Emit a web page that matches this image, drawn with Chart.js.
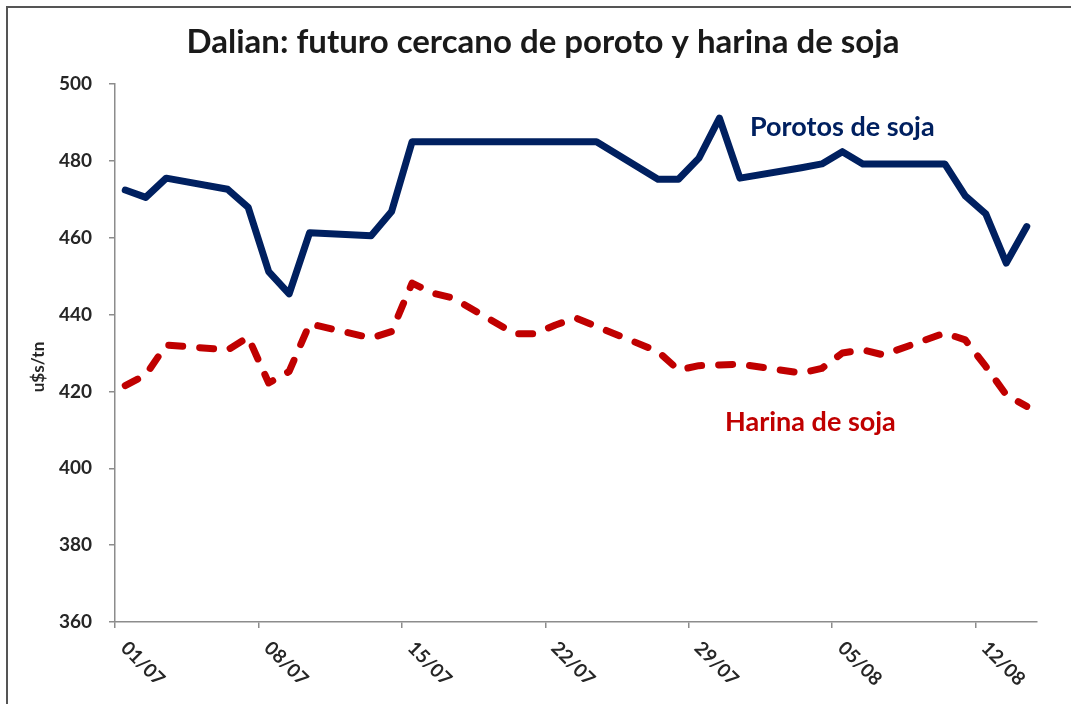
<!DOCTYPE html>
<html>
<head>
<meta charset="utf-8">
<title>Dalian: futuro cercano de poroto y harina de soja</title>
<script src="https://cdn.jsdelivr.net/npm/chart.js@4.4.1/dist/chart.umd.min.js"></script>
<style>
    html, body { margin: 0; padding: 0; background: #ffffff; overflow: hidden; }
    #wrap { position: relative; width: 1071px; height: 704px; }
</style>
</head>
<body>
<div id="wrap">
    <canvas id="dalian-chart" width="1071" height="704"></canvas>
</div>
<script>
// Trading days (dd/mm, 2020) and near-futures prices in u$s/tn
const dates = [
    '01/07', '02/07', '03/07', '06/07', '07/07', '08/07', '09/07', '10/07',
    '13/07', '14/07', '15/07', '16/07', '17/07', '20/07', '21/07', '22/07',
    '23/07', '24/07', '27/07', '28/07', '29/07', '30/07', '31/07', '03/08',
    '04/08', '05/08', '06/08', '07/08', '10/08', '11/08', '12/08', '13/08', '14/08'
];
const porotos = [
    472.4, 470.5, 475.5, 472.6, 467.9, 451.2, 445.4, 461.3,
    460.5, 466.8, 485.0, 485.0, 485.0, 485.0, 485.0, 485.0,
    485.0, 485.0, 475.2, 475.2, 480.7, 491.1, 475.5, 478.2,
    479.2, 482.4, 479.2, 479.2, 479.2, 470.9, 466.2, 453.4, 462.9
];
const harina = [
    421.5, 424.3, 432.1, 430.8, 434.1, 422.2, 425.2, 437.6,
    433.9, 435.6, 448.2, 445.6, 444.3, 435.0, 435.0, 437.3,
    439.1, 436.9, 430.4, 425.6, 426.7, 426.9, 427.1, 424.8,
    426.0, 430.0, 430.8, 429.5, 435.2, 433.4, 426.5, 419.1, 416.1
];
const tickLabels = ['01/07', '08/07', '15/07', '22/07', '29/07', '05/08', '12/08'];
const yTicks = [360, 380, 400, 420, 440, 460, 480, 500];

const TITLE = 'Dalian: futuro cercano de poroto y harina de soja';
const FONT = 'Lato, "Open Sans", sans-serif';

// day number counted from 01/07 (July has 31 days)
function dayIndex(label) {
    const parts = label.split('/');
    const d = parseInt(parts[0], 10);
    const m = parseInt(parts[1], 10);
    return (m === 7 ? d - 1 : 31 + d - 1);
}

// Excel date axis puts each day in the middle of its slot
const toPoints = (values) => values.map((v, i) => ({ x: dayIndex(dates[i]) + 0.5, y: v }));
const tickDays = tickLabels.map(dayIndex);

/**
 * Draws the frame, title, axis title, rotated dates and series labels
 */
const decorations = {
    id: 'decorations',
    beforeDraw(chart) {
        const ctx = chart.ctx;
        ctx.save();
        ctx.fillStyle = '#ffffff';
        ctx.fillRect(0, 0, chart.width, chart.height);
        ctx.strokeStyle = '#555555';
        ctx.lineWidth = 2;
        ctx.strokeRect(7, 7, 1200, 1200);
        ctx.restore();
    },
    afterDraw(chart) {
        const ctx = chart.ctx;
        const xScale = chart.scales.x;
        ctx.save();

        // title
        ctx.fillStyle = '#1a1a1a';
        ctx.font = 'bold 33px ' + FONT;
        ctx.textAlign = 'center';
        ctx.textBaseline = 'middle';
        ctx.fillText(TITLE, 543, 42);

        // y axis title
        ctx.save();
        ctx.translate(39, 367);
        ctx.rotate(-Math.PI / 2);
        ctx.font = 'bold 17px ' + FONT;
        ctx.fillStyle = '#262626';
        ctx.fillText('u$s/tn', 0, 0);
        ctx.restore();

        // x tick labels, rotated 45 degrees clockwise
        ctx.font = 'bold 19px ' + FONT;
        ctx.fillStyle = '#262626';
        ctx.textAlign = 'left';
        ctx.textBaseline = 'middle';
        tickLabels.forEach((label, i) => {
            const px = xScale.getPixelForValue(tickDays[i]);
            ctx.save();
            ctx.translate(px + 9, 645);
            ctx.rotate(Math.PI / 4);
            ctx.fillText(label, 0, 0);
            ctx.restore();
        });

        // series labels
        ctx.font = 'bold 27px ' + FONT;
        ctx.textAlign = 'left';
        ctx.fillStyle = '#002060';
        ctx.fillText('Porotos de soja', 750, 127);
        ctx.fillStyle = '#c00000';
        ctx.fillText('Harina de soja', 725, 422);

        ctx.restore();
    }
};

const ctx = document.getElementById('dalian-chart');
new Chart(ctx, {
    type: 'line',
    data: {
        datasets: [{
            label: 'Porotos de soja',
            data: toPoints(porotos),
            borderColor: '#002060',
            borderWidth: 7,
            borderCapStyle: 'round',
            borderJoinStyle: 'round',
            pointRadius: 0,
            tension: 0
        }, {
            label: 'Harina de soja',
            data: toPoints(harina),
            borderColor: '#c00000',
            borderWidth: 7,
            borderDash: [14, 17],
            borderCapStyle: 'round',
            borderJoinStyle: 'round',
            pointRadius: 0,
            tension: 0
        }]
    },
    options: {
        responsive: false,
        animation: false,
        layout: {
            padding: { top: 84, right: 34, bottom: 0, left: 0 }
        },
        plugins: {
            legend: { display: false },
            tooltip: { enabled: false },
            title: { display: false }
        },
        scales: {
            x: {
                type: 'linear',
                min: 0,
                max: 45,
                afterBuildTicks: (scale) => {
                    scale.ticks = tickDays.map(v => ({ value: v }));
                },
                afterFit: (scale) => { scale.height = 82; },
                ticks: { display: false },
                grid: {
                    drawOnChartArea: false,
                    drawTicks: true,
                    tickLength: 6,
                    color: '#8c8c8c',
                    lineWidth: 1.5
                },
                border: { color: '#8c8c8c', width: 1.5 }
            },
            y: {
                min: 360,
                max: 500,
                afterBuildTicks: (scale) => {
                    scale.ticks = yTicks.map(v => ({ value: v }));
                },
                afterFit: (scale) => { scale.width = 115; },
                ticks: {
                    padding: 17,
                    color: '#262626',
                    font: { family: FONT, size: 19, weight: 'bold' }
                },
                grid: {
                    drawOnChartArea: false,
                    drawTicks: true,
                    tickLength: 6,
                    color: '#8c8c8c',
                    lineWidth: 1.5
                },
                border: { color: '#8c8c8c', width: 1.5 }
            }
        }
    },
    plugins: [decorations]
});
</script>
</body>
</html>
